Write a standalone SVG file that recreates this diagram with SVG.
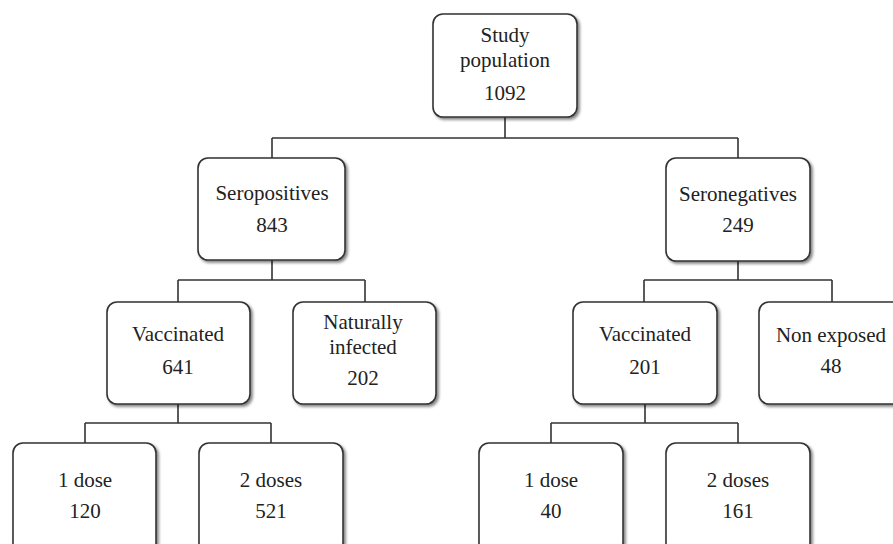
<svg xmlns="http://www.w3.org/2000/svg" width="893" height="544" viewBox="0 0 893 544">
<defs>
<filter id="sh" x="-10%" y="-10%" width="130%" height="130%">
<feGaussianBlur in="SourceAlpha" stdDeviation="1.5"/>
<feOffset dx="2" dy="2" result="b"/>
<feComponentTransfer><feFuncA type="linear" slope="0.5"/></feComponentTransfer>
<feMerge><feMergeNode/><feMergeNode in="SourceGraphic"/></feMerge>
</filter>
</defs>
<style>
.box{fill:#fff;stroke:#333;stroke-width:1.6;filter:url(#sh)}
.t{font-family:"Liberation Serif","Times New Roman",serif;font-size:21px;fill:#222;text-anchor:middle}
.c{fill:none;stroke:#333;stroke-width:1.6}
</style>
<rect width="893" height="544" fill="#fff"/>
<g id="connectors">
<path class="c" d="M505,117V138M272,138H738M272,138V158M738,138V158"/>
<path class="c" d="M272,260V280M178,280H365M178,280V302M365,280V302"/>
<path class="c" d="M738,261V280M644,280H832M644,280V302M832,280V302"/>
<path class="c" d="M178,404V423M85,423H271M85,423V443M271,423V443"/>
<path class="c" d="M645,404V423M551,423H738M551,423V443M738,423V443"/>
</g>
<g id="study">
<rect class="box" x="433" y="14" width="144" height="103" rx="10"/>
<text class="t" x="505" y="42">Study</text>
<text class="t" x="505" y="67">population</text>
<text class="t" x="505" y="100">1092</text>
</g>
<g id="seropos">
<rect class="box" x="198" y="158" width="147" height="102" rx="10"/>
<text class="t" x="272" y="200">Seropositives</text>
<text class="t" x="272" y="232">843</text>
</g>
<g id="seroneg">
<rect class="box" x="666" y="158" width="144" height="103" rx="10"/>
<text class="t" x="738" y="201">Seronegatives</text>
<text class="t" x="738" y="232">249</text>
</g>
<g id="vacc1">
<rect class="box" x="107" y="302" width="143" height="102" rx="10"/>
<text class="t" x="178" y="341">Vaccinated</text>
<text class="t" x="178" y="374">641</text>
</g>
<g id="natural">
<rect class="box" x="293" y="302" width="143" height="102" rx="10"/>
<text class="t" x="363" y="329">Naturally</text>
<text class="t" x="363" y="354">infected</text>
<text class="t" x="363" y="385">202</text>
</g>
<g id="vacc2">
<rect class="box" x="573" y="302" width="144" height="102" rx="10"/>
<text class="t" x="645" y="341">Vaccinated</text>
<text class="t" x="645" y="374">201</text>
</g>
<g id="nonexp">
<rect class="box" x="759" y="302" width="146" height="102" rx="10"/>
<text class="t" x="831" y="342">Non exposed</text>
<text class="t" x="831" y="373">48</text>
</g>
<g id="dose1a">
<rect class="box" x="13" y="443" width="143" height="110" rx="10"/>
<text class="t" x="85" y="487">1 dose</text>
<text class="t" x="85" y="518">120</text>
</g>
<g id="dose2a">
<rect class="box" x="199" y="443" width="144" height="110" rx="10"/>
<text class="t" x="271" y="487">2 doses</text>
<text class="t" x="271" y="518">521</text>
</g>
<g id="dose1b">
<rect class="box" x="479" y="443" width="144" height="110" rx="10"/>
<text class="t" x="551" y="487">1 dose</text>
<text class="t" x="551" y="518">40</text>
</g>
<g id="dose2b">
<rect class="box" x="666" y="443" width="144" height="110" rx="10"/>
<text class="t" x="738" y="487">2 doses</text>
<text class="t" x="738" y="518">161</text>
</g>
</svg>
